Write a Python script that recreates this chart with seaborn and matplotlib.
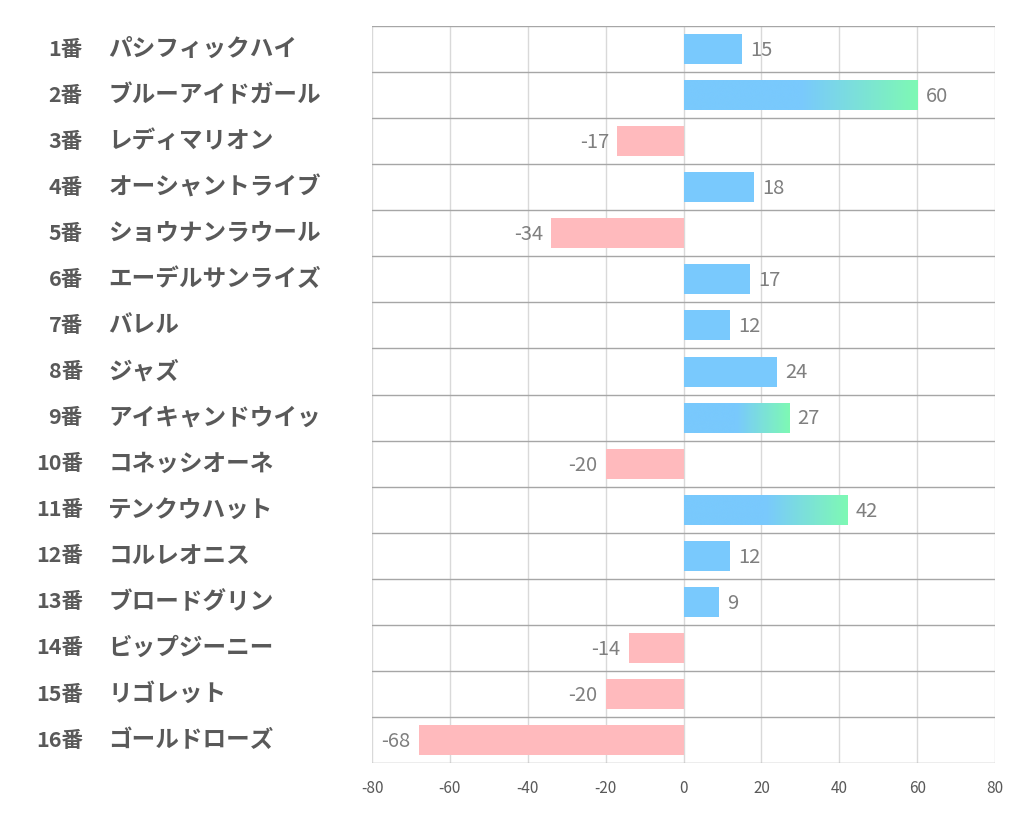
import numpy as np
import pandas as pd
import matplotlib
matplotlib.use('Agg')
import matplotlib.pyplot as plt
import matplotlib.transforms as mtransforms
from matplotlib.colors import LinearSegmentedColormap
import seaborn as sns

sns.set_style('white')
plt.rcParams['font.family'] = ['Noto Sans CJK JP', 'DejaVu Sans']

# ── data ──────────────────────────────────────────────────
numbers = ['1番', '2番', '3番', '4番', '5番', '6番', '7番', '8番',
           '9番', '10番', '11番', '12番', '13番', '14番', '15番', '16番']
horses = ['パシフィックハイ', 'ブルーアイドガール', 'レディマリオン', 'オーシャントライブ',
          'ショウナンラウール', 'エーデルサンライズ', 'バレル', 'ジャズ',
          'アイキャンドウイッ', 'コネッシオーネ', 'テンクウハット', 'コルレオニス',
          'ブロードグリン', 'ビップジーニー', 'リゴレット', 'ゴールドローズ']
scores = [15, 60, -17, 18, -34, 17, 12, 24, 27, -20, 42, 12, 9, -14, -20, -68]
highlight = [False, True, False, False, False, False, False, False,
             True, False, True, False, False, False, False, False]
x_ticks = [-80, -60, -40, -20, 0, 20, 40, 60, 80]

BLUE  = '#79C9FD'
GREEN = '#7EF9B4'
PINK  = '#FFBABD'
TEXT  = '#595959'
VAL   = '#7F7F7F'

df = pd.DataFrame({'num': numbers, 'horse': horses, 'score': scores})
df['key'] = df['num']
colors = [BLUE if s >= 0 else PINK for s in scores]

fig = plt.figure(figsize=(10.22, 8.34), dpi=100)
ax = fig.add_axes([0.364, 0.085, 0.6096, 0.8838])

sns.barplot(data=df, x='score', y='key', hue='key', palette=colors,
            legend=False, orient='h', width=0.65, saturation=1,
            edgecolor='none', ax=ax, zorder=3)

ax.set_xticks(x_ticks)
ax.set_xticklabels([str(t) for t in x_ticks], fontsize=11, color=TEXT)
ax.tick_params(axis='x', length=0, pad=12)
ax.set_yticks([])
ax.set_xlabel('')
ax.set_ylabel('')
for s in ax.spines.values():
    s.set_visible(False)

ax.grid(axis='x', color='#D9D9D9', linewidth=1, zorder=0)
ax.set_axisbelow(True)
for i in range(len(scores) + 1):
    ax.axhline(i - 0.5, color='#A6A6A6', linewidth=1, zorder=4)

# gradient overlay on highlighted bars (blue → green over the outer part)
cmap = LinearSegmentedColormap.from_list('bg', [BLUE, GREEN])
grad = np.linspace(0, 1, 256).reshape(1, -1)
grad = np.clip((grad - 0.5) / 0.5, 0, 1)
for patch, hl in zip(ax.patches, highlight):
    if not hl:
        continue
    x0, y0 = patch.get_x(), patch.get_y()
    w, h = patch.get_width(), patch.get_height()
    im = ax.imshow(grad, cmap=cmap, vmin=0, vmax=1,
                   extent=[x0, x0 + w, y0 + h, y0], aspect='auto',
                   zorder=3.5, interpolation='bicubic')
    im.set_clip_path(patch)
ax.set_xlim(x_ticks[0], x_ticks[-1])
ax.set_ylim(len(scores) - 0.5, -0.5)

# value labels
for i, s in enumerate(scores):
    off = 6 if s >= 0 else -6
    ax.annotate(str(s), (s, i), xytext=(off, -1), textcoords='offset points',
                ha='left' if s >= 0 else 'right', va='center',
                fontsize=14.5, color=VAL, zorder=5)

# row labels
trans = mtransforms.blended_transform_factory(fig.transFigure, ax.transData)
for i, (n, h) in enumerate(zip(numbers, horses)):
    ax.text(0.081, i, n, transform=trans, ha='right', va='center',
            fontsize=15.5, fontweight='bold', color=TEXT, clip_on=False)
    ax.text(0.106, i, h, transform=trans, ha='left', va='center',
            fontsize=17, fontweight='bold', color=TEXT, clip_on=False)

plt.savefig('out.png', dpi=100)
plt.close()
